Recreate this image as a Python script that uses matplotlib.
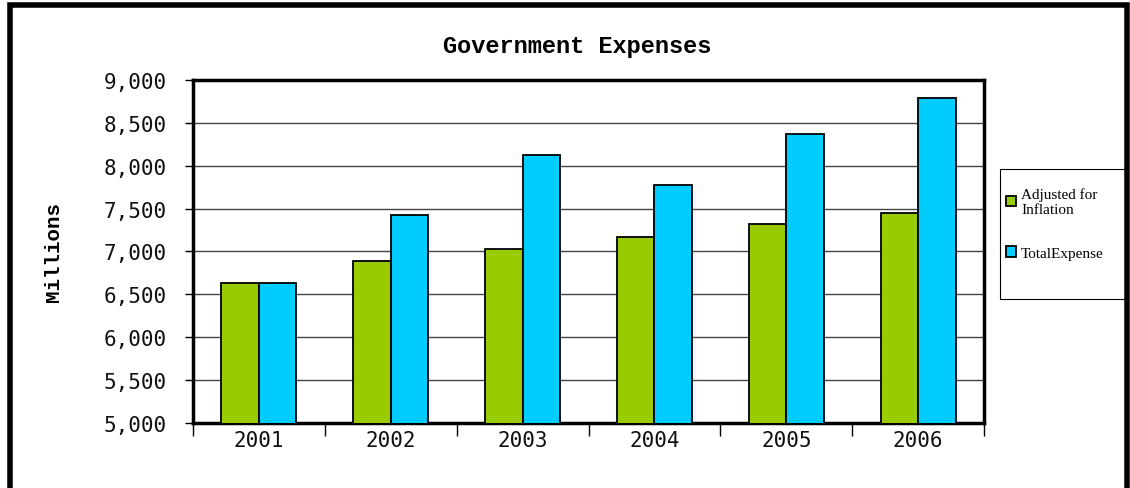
import matplotlib
matplotlib.use("Agg")
import matplotlib.pyplot as plt
import numpy as np
from matplotlib.patches import Rectangle

years = ["2001", "2002", "2003", "2004", "2005", "2006"]
adjusted = [6635, 6890, 7030, 7170, 7320, 7445]
total = [6635, 7420, 8125, 7775, 8375, 8790]
series_names = ["Adjusted for\nInflation", "TotalExpense"]
colors = ["#99CC00", "#00CCFF"]

fig = plt.figure(figsize=(11.3, 4.89), dpi=100)
ax = fig.add_axes([0.1708, 0.1329, 0.7000, 0.7015])

x = np.arange(len(years))
w = 0.285
b1 = ax.bar(x - w / 2, adjusted, w, color=colors[0], edgecolor="black", linewidth=1.3, zorder=3, label=series_names[0])
b2 = ax.bar(x + w / 2, total, w, color=colors[1], edgecolor="black", linewidth=1.3, zorder=3, label=series_names[1])

ax.set_ylim(5000, 9000)
ax.set_xlim(-0.5, len(years) - 0.5)
ax.set_yticks(np.arange(5000, 9001, 500))
ax.set_yticklabels([f"{v:,}" for v in range(5000, 9001, 500)], family="DejaVu Sans Mono",
                   fontsize=15, fontweight="light", color="#111111")
ax.yaxis.grid(True, color="#444444", linewidth=1.0, zorder=0)
ax.set_axisbelow(True)

# category ticks at boundaries, labels at centres
ax.set_xticks(np.arange(-0.5, len(years), 1.0))
ax.set_xticklabels([])
ax.set_xticks(x, minor=True)
ax.set_xticklabels(years, minor=True, family="DejaVu Sans Mono", fontsize=15, color="#111111")
ax.tick_params(axis="x", which="minor", length=0, pad=5)
ax.tick_params(axis="x", which="major", length=9, width=1, direction="out")
ax.tick_params(axis="y", length=6, width=1, direction="out", pad=13)

for s in ax.spines.values():
    s.set_linewidth(2.5)
    s.set_color("black")

ax.set_ylabel("Millions", family="Liberation Mono", fontweight="bold", fontsize=15)
ax.yaxis.set_label_coords(-0.164, 0.5)
fig.text(0.511, 0.905, "Government Expenses", ha="center", va="center",
         family="Liberation Mono", fontweight="bold", fontsize=17)

# legend frame
fig.patches.append(Rectangle((0.885, 0.3865), 0.1115, 0.266, transform=fig.transFigure,
                             fill=False, edgecolor="black", linewidth=0.8, zorder=5))
leg = fig.legend(handles=[b1, b2], labels=series_names, loc="upper left",
                 bbox_to_anchor=(0.886, 0.625), frameon=False,
                 prop={"family": "Liberation Serif", "size": 11},
                 handlelength=0.7, handleheight=0.7, labelspacing=2.0, borderpad=0.3,
                 handletextpad=0.3, borderaxespad=0)

# figure border
fig.patches.append(Rectangle((0.009, -0.01), 0.988, 0.998, transform=fig.transFigure,
                             fill=False, edgecolor="black", linewidth=4, zorder=10))

fig.savefig("out.png", dpi=100)
